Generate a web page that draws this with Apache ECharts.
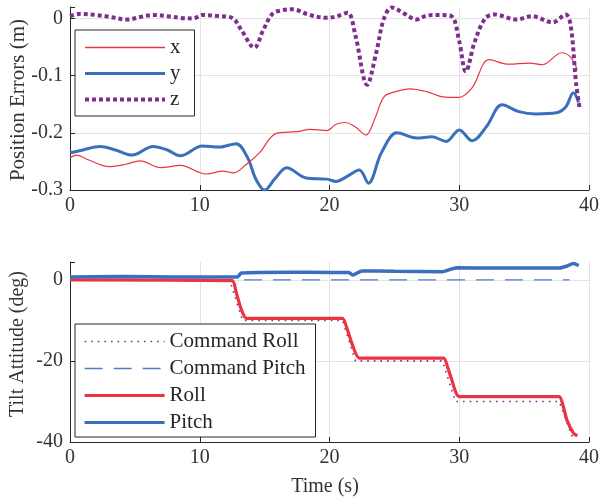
<!DOCTYPE html>
<html>
<head>
<meta charset="utf-8">
<script src="https://cdn.jsdelivr.net/npm/echarts@6/dist/echarts.min.js"></script>
<style>html,body{margin:0;padding:0;background:#fff;}#c{width:602px;height:497px;}</style>
</head>
<body>
<div id="c"></div>
<script>
// ---- Top plot: position errors (m) ----
const xT = [0,0.5,1.5,3,4.3,5.4,7,8.5,10.5,11.8,12.6,13.6,14.6,15.9,17.5,18.5,19.8,20.5,21.2,22,22.8,23.5,24.2,25.1,26.2,27.5,28.7,30,31,32.3,33.8,35.4,36.4,37.9,38.6,39.1];
const xV = [-0.244,-0.239,-0.248,-0.259,-0.255,-0.249,-0.261,-0.257,-0.272,-0.267,-0.27,-0.255,-0.235,-0.201,-0.198,-0.194,-0.196,-0.185,-0.182,-0.19,-0.204,-0.175,-0.137,-0.128,-0.123,-0.128,-0.137,-0.138,-0.121,-0.072,-0.08,-0.078,-0.081,-0.06,-0.068,-0.09];
const yT = [0,1,2.3,3.5,4.8,6.4,7.5,8.5,10.2,11.5,12.8,13.7,14.3,15,15.8,16.7,18.2,19.8,20.5,21.3,22.3,23,24,25.2,26.7,27.9,29,30,31,32.1,33.3,34.6,35.9,37.5,38.2,38.8,39.2];
const yV = [-0.235,-0.23,-0.224,-0.23,-0.239,-0.224,-0.23,-0.24,-0.223,-0.225,-0.219,-0.244,-0.28,-0.3,-0.28,-0.261,-0.279,-0.281,-0.285,-0.277,-0.265,-0.288,-0.235,-0.2,-0.209,-0.207,-0.215,-0.195,-0.214,-0.189,-0.151,-0.163,-0.167,-0.165,-0.155,-0.13,-0.147];
const zT = [0,0.8,2,3,4.4,5.5,6.4,7.5,8.5,9.5,10.2,11.5,12.5,13.2,14.2,14.9,15.6,16.3,17.1,18.5,19.8,20.6,21.4,22,22.9,23.6,24.2,24.8,25.8,26.7,27.5,28.5,29.4,30,30.5,31.2,32,32.7,34.4,35.6,37.2,38.2,38.6,39,39.3];
const zV = [0.004,0.008,0.006,0.003,-0.002,0.003,0.006,0.004,0.001,0.0,0.006,0.004,0.001,-0.02,-0.051,-0.02,0.008,0.014,0.016,0.006,0.001,0.004,0.01,-0.03,-0.116,-0.06,0.0,0.019,0.008,-0.002,0.005,0.006,0.004,-0.04,-0.093,-0.04,0.0,0.007,-0.002,0.004,-0.007,0.007,-0.014,-0.113,-0.16];

// ---- Bottom plot: tilt attitude (deg) ----
const cmdRollT = [0,12.3,13.3,21.0,22.0,28.7,29.7,37.7,38.8];
const cmdRollV = [0,0,-10,-10,-20,-20,-30,-30,-39.5];
const cmdPitchT = [0,38.5];
const cmdPitchV = [0,0];
const rollT = [0,12.5,12.8,13.2,13.6,21.0,21.3,21.7,22.3,28.8,29.1,29.4,30.0,37.7,38.0,38.3,38.8,39.1];
const rollV = [0,-0.2,-3,-7.3,-9.5,-9.5,-11.5,-15.4,-19.3,-19.3,-21.5,-24.4,-28.8,-28.8,-31,-34.6,-37.8,-38.5];
const pitchT = [0,4,8,12.9,13.2,17,20,21.5,21.8,22.5,25,28.7,29.8,33,37.7,38.3,38.8,39.2];
const pitchV = [0.7,0.8,0.7,0.7,1.7,1.9,1.8,1.8,1.2,2.2,2.1,2.0,3.0,2.9,2.9,3.4,4.0,3.5];

const topTicks = [0,-0.1,-0.2,-0.3];
const botTicks = [0,-20,-40];
const xTicks = [0,10,20,30,40];

const zip = (t, v) => t.map((x, i) => [x, v[i]]);
const FONT = 'Liberation Serif';
const TXT = '#333333';
const AX = '#262626';
const GRID = '#e3e3e3';

function xAxis(gi){
  return {
    type:'value', gridIndex:gi, min:xTicks[0], max:xTicks[xTicks.length-1], interval:10,
    axisLine:{show:true, onZero:false, lineStyle:{color:AX, width:1}},
    axisTick:{show:true, inside:true, length:5, lineStyle:{color:AX}},
    axisLabel:{color:TXT, fontFamily:FONT, fontSize:20, margin:6},
    splitLine:{show:true, lineStyle:{color:GRID, width:1}}
  };
}
function yAxis(gi, min, max, interval, ticks){
  return {
    type:'value', gridIndex:gi, min:min, max:max, interval:interval,
    axisLine:{show:true, onZero:false, lineStyle:{color:AX, width:1}},
    axisTick:{show:true, inside:true, length:5, lineStyle:{color:AX}},
    axisLabel:{color:TXT, fontFamily:FONT, fontSize:20, margin:7,
      formatter:function(v){
        for (const t of ticks){ if (Math.abs(v - t) < 1e-6) return String(t); }
        return '';
      }},
    splitLine:{show:true, showMaxLine:false, lineStyle:{color:GRID, width:1}}
  };
}

const RED = '#ee3340';
const BLUE = '#3b6fbd';
const PURPLE = '#7e2f8e';
const LBLUE = '#4a7fc6';

const legendCommon = {
  orient:'vertical', itemWidth:80, itemHeight:20, borderColor:AX, borderWidth:1, backgroundColor:'#fff',
  textStyle:{fontFamily:FONT, fontSize:21, color:AX}, selectedMode:false,
  itemStyle:{opacity:0, borderWidth:0}
};

const chart = echarts.init(document.getElementById('c'), null, {renderer:'canvas'});
chart.setOption({
  animation:false,
  backgroundColor:'#ffffff',
  grid:[
    {left:70, right:12, top:7, height:183},
    {left:70, right:12, top:262, height:180}
  ],
  xAxis:[xAxis(0), xAxis(1)],
  yAxis:[yAxis(0, -0.3, 0.02, 0.1, topTicks), yAxis(1, -40, 4.4, 20, botTicks)],
  legend:[
    Object.assign({}, legendCommon, {
      data:[
        {name:'x', lineStyle:{color:RED, width:1.4, type:'solid'}},
        {name:'y', lineStyle:{color:BLUE, width:3, type:'solid'}},
        {name:'z', lineStyle:{color:PURPLE, width:4, type:[4,3]}}
      ],
      left:75, top:30, itemGap:5, padding:[7,14,6,8]}),
    Object.assign({}, legendCommon, {
      data:[
        {name:'Command Roll', lineStyle:{color:PURPLE, width:1.6, type:[1.6,5]}},
        {name:'Command Pitch', lineStyle:{color:LBLUE, width:1.3, type:[18,11]}},
        {name:'Roll', lineStyle:{color:RED, width:3.2, type:'solid'}},
        {name:'Pitch', lineStyle:{color:BLUE, width:3.2, type:'solid'}}
      ],
      left:75, top:324, itemGap:6, padding:[7,10,4,8]})
  ],
  graphic:[
    {type:'text', x:18, y:100, rotation:Math.PI/2, style:{text:'Position Errors (m)', font:'21px "Liberation Serif"', fill:TXT, align:'center', verticalAlign:'middle'}},
    {type:'text', x:18, y:344, rotation:Math.PI/2, style:{text:'Tilt Attitude (deg)', font:'20px "Liberation Serif"', fill:TXT, align:'center', verticalAlign:'middle'}},
    {type:'text', x:325, y:487, style:{text:'Time (s)', font:'20px "Liberation Serif"', fill:TXT, align:'center', verticalAlign:'middle'}}
  ],
  series:[
    {name:'x', type:'line', xAxisIndex:0, yAxisIndex:0, data:zip(xT,xV), smooth:0.35, symbol:'none',
     lineStyle:{color:RED, width:1.2}, itemStyle:{color:RED}, z:3},
    {name:'y', type:'line', xAxisIndex:0, yAxisIndex:0, data:zip(yT,yV), smooth:0.35, symbol:'none',
     lineStyle:{color:BLUE, width:3}, itemStyle:{color:BLUE}, z:2},
    {name:'z', type:'line', xAxisIndex:0, yAxisIndex:0, data:zip(zT,zV), smooth:0.35, symbol:'none',
     lineStyle:{color:PURPLE, width:4, type:[4,3], cap:'butt'}, itemStyle:{color:PURPLE}, z:4},
    {name:'Command Roll', type:'line', xAxisIndex:1, yAxisIndex:1, data:zip(cmdRollT,cmdRollV), symbol:'none',
     lineStyle:{color:PURPLE, width:1.6, type:[1.6,5]}, itemStyle:{color:PURPLE}, z:2},
    {name:'Command Pitch', type:'line', xAxisIndex:1, yAxisIndex:1, data:zip(cmdPitchT,cmdPitchV), symbol:'none',
     lineStyle:{color:LBLUE, width:1.3, type:[18,11]}, itemStyle:{color:LBLUE}, z:2},
    {name:'Roll', type:'line', xAxisIndex:1, yAxisIndex:1, data:zip(rollT,rollV), smooth:0.2, symbol:'none',
     lineStyle:{color:RED, width:3.2}, itemStyle:{color:RED}, z:3},
    {name:'Pitch', type:'line', xAxisIndex:1, yAxisIndex:1, data:zip(pitchT,pitchV), smooth:0.2, symbol:'none',
     lineStyle:{color:BLUE, width:3.5}, itemStyle:{color:BLUE}, z:3}
  ]
});
</script>
</body>
</html>
